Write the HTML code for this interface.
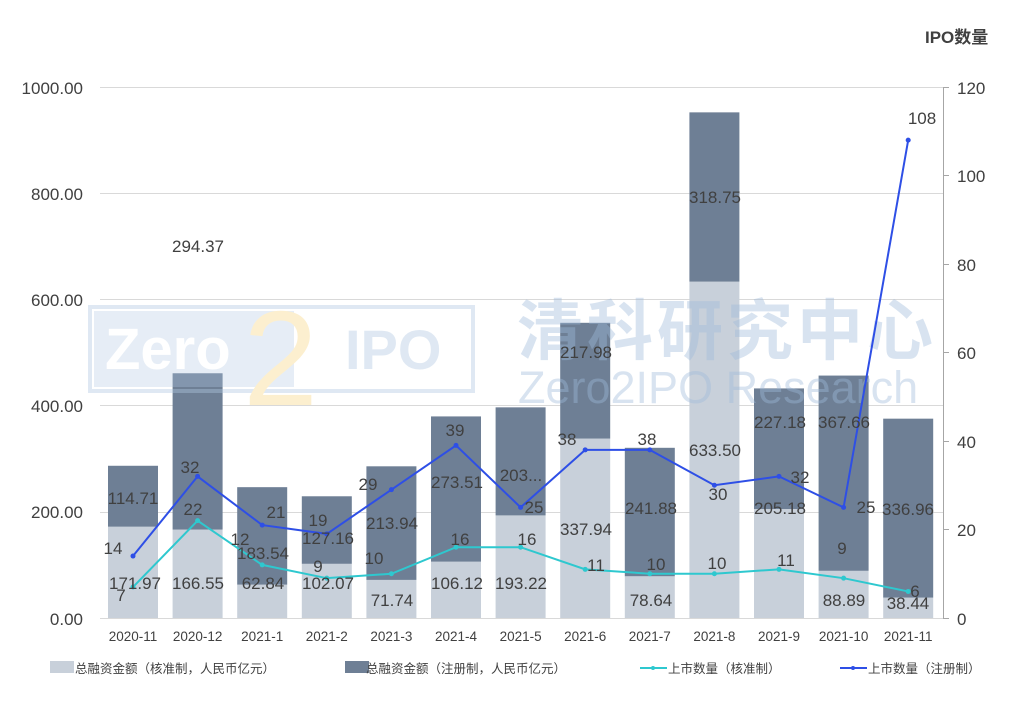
<!DOCTYPE html>
<html><head><meta charset="utf-8"><style>
html,body{margin:0;padding:0;background:#fff;width:1019px;height:701px;overflow:hidden}
svg text{font-family:"Liberation Sans","Noto Sans CJK SC",sans-serif}
</style></head><body>
<svg width="1019" height="701" viewBox="0 0 1019 701" xmlns="http://www.w3.org/2000/svg">
<g stroke="#d9d9d9" stroke-width="1">
<line x1="100" y1="87.5" x2="943" y2="87.5"/>
<line x1="100" y1="193.5" x2="943" y2="193.5"/>
<line x1="100" y1="299.5" x2="943" y2="299.5"/>
<line x1="100" y1="405.5" x2="943" y2="405.5"/>
<line x1="100" y1="512.5" x2="943" y2="512.5"/>
</g>
<g font-size="17" fill="#404040" text-anchor="end">
<text x="83" y="94">1000.00</text><text x="83" y="200">800.00</text><text x="83" y="306">600.00</text>
<text x="83" y="412">400.00</text><text x="83" y="518">200.00</text><text x="83" y="625">0.00</text>
</g>
<g font-size="17" fill="#404040">
<text x="957" y="94">120</text><text x="957" y="182">100</text><text x="957" y="271">80</text>
<text x="957" y="359">60</text><text x="957" y="448">40</text><text x="957" y="536">20</text><text x="957" y="625">0</text>
<text x="925" y="43" font-weight="bold" font-size="17">IPO数量</text>
</g>
<g stroke="#a6a6a6"><line x1="943.5" y1="87" x2="943.5" y2="618"/>
<line x1="943" y1="87.5" x2="949" y2="87.5"/><line x1="943" y1="175.5" x2="949" y2="175.5"/><line x1="943" y1="264.5" x2="949" y2="264.5"/><line x1="943" y1="352.5" x2="949" y2="352.5"/><line x1="943" y1="441.5" x2="949" y2="441.5"/><line x1="943" y1="529.5" x2="949" y2="529.5"/><line x1="943" y1="618.5" x2="949" y2="618.5"/></g>
<g id="bars"></g>
<line x1="100" y1="618.5" x2="943" y2="618.5" stroke="#d9d9d9"/>
<!-- watermark -->
<g opacity="0.4">
<rect x="90" y="307" width="383" height="84" fill="none" stroke="#b0c8e2" stroke-width="4"/>
<rect x="94" y="311" width="200" height="76" fill="#b0c8e2" opacity="0.8"/>
<text x="105" y="369" font-size="58" font-weight="bold" fill="#fff" font-family="Liberation Mono,monospace">Zero</text>
<text x="345" y="369" font-size="56" font-weight="bold" fill="#b0c8e2" font-family="Liberation Mono,monospace">IPO</text>
<text x="243" y="405" font-size="135" fill="#f8d98a">2</text>
<text x="517" y="354" font-size="66" font-weight="bold" fill="#9fbbdb" font-family="Noto Sans CJK SC,sans-serif" letter-spacing="4">清科研究中心</text>
<text x="518" y="403" font-size="45" fill="#9fbbdb">Zero2IPO Research</text>
</g>
<g id="lines"></g>
<g font-size="17" fill="#404040" text-anchor="middle" id="labels"></g>
<g font-size="13.5" fill="#404040" text-anchor="middle" id="xl"></g>
<g font-size="12.5" fill="#404040">
<rect x="50" y="661" width="24" height="12" fill="#c8d0da"/><text x="75" y="673">总融资金额（核准制，人民币亿元）</text>
<rect x="345" y="661" width="24" height="12" fill="#6e7f95"/><text x="366" y="673">总融资金额（注册制，人民币亿元）</text>
<line x1="640" y1="668" x2="667" y2="668" stroke="#2ec8cf" stroke-width="2"/><circle cx="653" cy="668" r="2" fill="#2ec8cf"/><text x="668" y="673">上市数量（核准制）</text>
<line x1="840" y1="668" x2="867" y2="668" stroke="#2e4fe6" stroke-width="2"/><circle cx="853" cy="668" r="2" fill="#2e4fe6"/><text x="868" y="673">上市数量（注册制）</text>
</g>
</svg>
<script>
const NS="http://www.w3.org/2000/svg";
const d=[["2020-11",171.97,114.71,7,14],["2020-12",166.55,294.37,22,32],["2021-1",62.84,183.54,12,21],["2021-2",102.07,127.16,9,19],["2021-3",71.74,213.94,10,29],["2021-4",106.12,273.51,16,39],["2021-5",193.22,203.5,16,25],["2021-6",337.94,217.98,11,38],["2021-7",78.64,241.88,10,38],["2021-8",633.50,318.75,10,30],["2021-9",205.18,227.18,11,32],["2021-10",88.89,367.66,9,25],["2021-11",38.44,336.96,6,108]];
const cl=[[135,583],[198,583],[263,583],[328,583],[392,600],[457,583],[521,583],[586,529],[651,600],[715,450],[780,508],[844,600],[908,603]];
const dl=[[133,498],[198,246],[263,553],[328,538],[392,523],[457,482],[521,475],[586,352],[651,508],[715,197],[780,422],[844,422],[908,509]];
const dlt=["114.71","294.37","183.54","127.16","213.94","273.51","203...","217.98","241.88","318.75","227.18","367.66","336.96"];
const rl=[[113,548],[190,467],[276,512],[318,520],[368,484],[455,430],[534,507],[567,439],[647,439],[718,494],[800,477],[866,507],[922,118]];
const kl=[[121,595],[193,509],[240,539],[318,566],[374,558],[460,539],[527,539],[596,565],[656,564],[717,563],[786,560],[842,548],[915,591]];
const s=0.531,r=4.425,B=618;
function el(t,a,p,txt){const e=document.createElementNS(NS,t);for(const k in a)e.setAttribute(k,a[k]);if(txt!=null)e.textContent=txt;document.getElementById(p).appendChild(e);return e;}
let pr=[],pk=[];
d.forEach((v,i)=>{const cx=133+i*64.6;
const h1=v[1]*s,h2=v[2]*s;
el("rect",{x:cx-25,y:B-h1,width:50,height:h1,fill:"#c8d0da"},"bars");
el("rect",{x:cx-25,y:B-h1-h2,width:50,height:h2,fill:"#6e7f95"},"bars");
pr.push(cx+","+(B-v[4]*r));pk.push(cx+","+(B-v[3]*r));
el("text",{x:cl[i][0],y:cl[i][1]+6},"labels",v[1].toFixed(2));
el("text",{x:dl[i][0],y:dl[i][1]+6},"labels",dlt[i]);
el("text",{x:rl[i][0],y:rl[i][1]+6},"labels",v[4]);
el("text",{x:kl[i][0],y:kl[i][1]+6},"labels",v[3]);
el("text",{x:cx,y:641},"xl",v[0]);
});
el("polyline",{points:pk.join(" "),fill:"none",stroke:"#2ec8cf","stroke-width":2},"lines");
el("polyline",{points:pr.join(" "),fill:"none",stroke:"#2e4fe6","stroke-width":2},"lines");
pk.forEach(p=>{const[a,b]=p.split(",");el("circle",{cx:a,cy:b,r:2.5,fill:"#2ec8cf"},"lines")});
pr.forEach(p=>{const[a,b]=p.split(",");el("circle",{cx:a,cy:b,r:2.5,fill:"#2e4fe6"},"lines")});
</script>
</body></html>
